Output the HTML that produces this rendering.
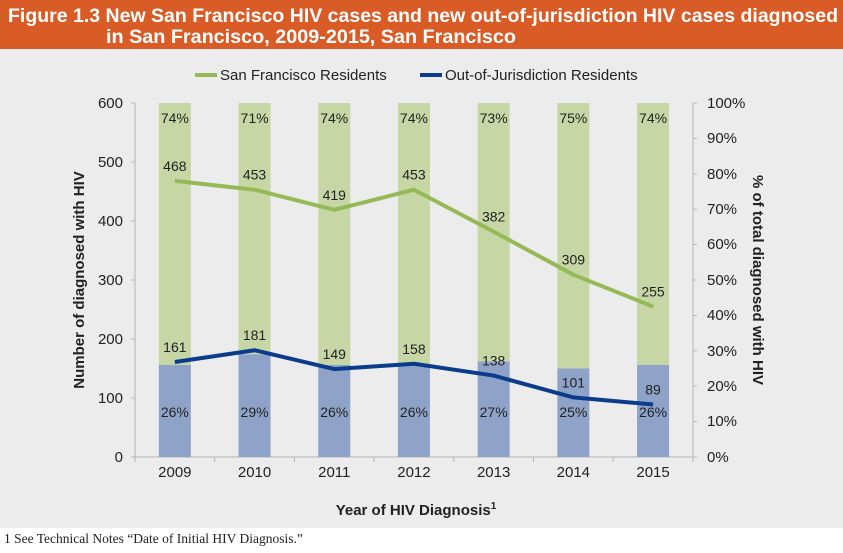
<!DOCTYPE html>
<html><head><meta charset="utf-8"><style>
body{margin:0;width:843px;height:548px;background:#fff;overflow:hidden;font-family:"Liberation Sans",sans-serif}
</style></head><body>
<svg width="843" height="548" xmlns="http://www.w3.org/2000/svg" font-family="Liberation Sans, sans-serif">
<rect x="0" y="0" width="843" height="49" fill="#d95b25"/>
<text x="8" y="22" font-size="19" font-weight="bold" fill="#fff" textLength="830" lengthAdjust="spacingAndGlyphs">Figure 1.3  New San Francisco HIV cases and new out-of-jurisdiction HIV cases diagnosed</text>
<text x="106" y="43" font-size="19" font-weight="bold" fill="#fff" textLength="410" lengthAdjust="spacingAndGlyphs">in San Francisco, 2009-2015, San Francisco</text>
<rect x="0" y="49" width="843" height="479" fill="#ebeceb"/>
<text x="4" y="543" font-size="13.5" font-family="Liberation Serif, serif" fill="#222">1  See Technical Notes “Date of Initial HIV Diagnosis.”</text>
<rect x="195" y="73" width="22" height="4" fill="#95b957"/>
<text x="220" y="80" font-size="15" fill="#222">San Francisco Residents</text>
<rect x="420" y="73" width="22" height="4" fill="#0b3c8c"/>
<text x="445" y="80" font-size="15" fill="#222">Out-of-Jurisdiction Residents</text>
<g stroke="#b5b5b5" stroke-width="1" fill="none">
<line x1="135" y1="103" x2="135" y2="457"/>
<line x1="693" y1="103" x2="693" y2="457"/>
<line x1="135" y1="457" x2="693" y2="457"/>
</g>
<g id="bars"></g>
<g font-size="15" fill="#222" text-anchor="end">
<text x="123" y="108">600</text><text x="123" y="167">500</text><text x="123" y="226">400</text><text x="123" y="285">300</text><text x="123" y="344">200</text><text x="123" y="403">100</text><text x="123" y="462">0</text>
</g>
<g font-size="15" fill="#222">
<text x="707" y="108">100%</text><text x="707" y="143">90%</text><text x="707" y="179">80%</text><text x="707" y="214">70%</text><text x="707" y="249">60%</text><text x="707" y="285">50%</text><text x="707" y="320">40%</text><text x="707" y="356">30%</text><text x="707" y="391">20%</text><text x="707" y="426">10%</text><text x="707" y="462">0%</text>
</g>
<text transform="translate(84,280) rotate(-90)" font-size="15" font-weight="bold" text-anchor="middle" fill="#222">Number of diagnosed with HIV</text>
<text transform="translate(753,280) rotate(90)" font-size="15" font-weight="bold" text-anchor="middle" fill="#222">% of total diagnosed with HIV</text>
<text x="416" y="515" font-size="15" font-weight="bold" text-anchor="middle" fill="#222">Year of HIV Diagnosis<tspan font-size="10" dy="-6">1</tspan></text>
<g id="rest"></g>
</svg>
<script>
var yrs=[2009,2010,2011,2012,2013,2014,2015],sf=[468,453,419,453,382,309,255],oj=[161,181,149,158,138,101,89],pa=[74,71,74,74,73,75,74],pb=[26,29,26,26,27,25,26];
var ns="http://www.w3.org/2000/svg",b=document.getElementById("bars"),r=document.getElementById("rest");
function el(p,t,a,txt){var e=document.createElementNS(ns,t);for(var k in a)e.setAttribute(k,a[k]);if(txt)e.textContent=txt;p.appendChild(e);return e;}
var sp=79.7,y0=457,sc=0.59,ptsA=[],ptsB=[];
for(var i=0;i<7;i++){var cx=135+sp*(i+0.5);var hb=pb[i]*3.54;
el(b,"rect",{x:cx-16,y:103,width:32,height:354-hb,fill:"#c6d6a5"});
el(b,"rect",{x:cx-16,y:y0-hb,width:32,height:hb,fill:"#8fa3c9"});
el(b,"line",{x1:135+sp*i,y1:457,x2:135+sp*i,y2:462,stroke:"#b5b5b5"});
ptsA.push(cx+","+(y0-sf[i]*sc));ptsB.push(cx+","+(y0-oj[i]*sc));
el(r,"text",{x:cx,y:477,"font-size":15,"text-anchor":"middle",fill:"#222"},yrs[i]);
el(r,"text",{x:cx,y:123,"font-size":14,"text-anchor":"middle",fill:"#222"},pa[i]+"%");
el(r,"text",{x:cx,y:417,"font-size":14,"text-anchor":"middle",fill:"#222"},pb[i]+"%");
}
el(b,"line",{x1:693,y1:457,x2:693,y2:462,stroke:"#b5b5b5"});
el(r,"polyline",{points:ptsA.join(" "),fill:"none",stroke:"#95b957","stroke-width":4,"stroke-linejoin":"round"});
el(r,"polyline",{points:ptsB.join(" "),fill:"none",stroke:"#0b3c8c","stroke-width":4,"stroke-linejoin":"round"});
for(var i=0;i<7;i++){var cx=135+sp*(i+0.5);
el(r,"text",{x:cx,y:y0-sf[i]*sc-10,"font-size":14,"text-anchor":"middle",fill:"#222"},sf[i]);
el(r,"text",{x:cx,y:y0-oj[i]*sc-10,"font-size":14,"text-anchor":"middle",fill:"#222"},oj[i]);}
for(var v=0;v<=600;v+=100)el(b,"line",{x1:131,y1:y0-v*sc,x2:135,y2:y0-v*sc,stroke:"#b5b5b5"});
for(var p=0;p<=100;p+=10)el(b,"line",{x1:693,y1:y0-p*3.54,x2:697,y2:y0-p*3.54,stroke:"#b5b5b5"});
</script>
</body></html>
